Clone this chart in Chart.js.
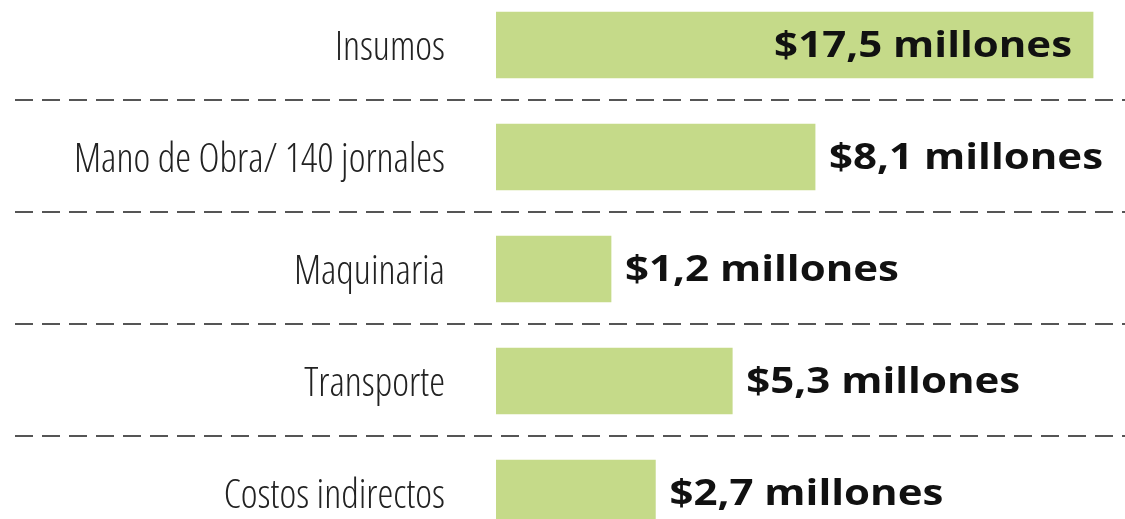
<!DOCTYPE html>
<html>
<head>
<meta charset="utf-8">
<script src="https://cdn.jsdelivr.net/npm/chart.js@4.4.1/dist/chart.umd.min.js"></script>
<style>
  html, body { margin: 0; padding: 0; background: #fff; overflow: hidden; }
  #bar-chart { position: absolute; left: 0; top: -11px; }
</style>
</head>
<body>
<canvas id="bar-chart" width="1125" height="560"></canvas>
<script>
const categories = ['Insumos', 'Mano de Obra/ 140 jornales', 'Maquinaria', 'Transporte', 'Costos indirectos'];
const values = [17.5, 8.1, 1.2, 5.3, 2.7]; // millones de pesos
const valueLabels = ['$17,5 millones', '$8,1 millones', '$1,2 millones', '$5,3 millones', '$2,7 millones'];

const axisMin = -2.69; // bars do not start at zero in the original
const axisMax = 18.58;

// dashed separators across the full width, between rows
const separators = {
    id: 'separators',
    beforeDatasetsDraw(chart) {
        const { ctx, scales: { y } } = chart;
        ctx.save();
        ctx.strokeStyle = '#555';
        ctx.lineWidth = 2;
        ctx.setLineDash([18, 9]);
        for (let i = 0; i < categories.length - 1; i++) {
            const yy = Math.round((y.getPixelForValue(i) + y.getPixelForValue(i + 1)) / 2) - 1;
            ctx.beginPath();
            ctx.moveTo(15, yy);
            ctx.lineTo(chart.width, yy);
            ctx.stroke();
        }
        ctx.restore();
    }
};

// value labels: inside the first bar, after the others (text is a bit wide in the original)
const valueText = {
    id: 'valueText',
    afterDatasetsDraw(chart) {
        const { ctx } = chart;
        const bars = chart.getDatasetMeta(0).data;
        bars.forEach((bar, i) => {
            ctx.save();
            ctx.font = 'bold 35px "Open Sans"';
            ctx.fillStyle = '#111';
            ctx.textBaseline = 'middle';
            if (i === 0) {
                ctx.textAlign = 'right';
                ctx.translate(bar.x - 21, bar.y + 2);
            } else {
                ctx.textAlign = 'left';
                ctx.translate(bar.x + 14, bar.y + 2);
            }
            ctx.scale(1.2, 1);
            ctx.fillText(valueLabels[i], 0, 0);
            ctx.restore();
        });
    }
};

new Chart(document.getElementById('bar-chart'), {
    type: 'bar',
    data: {
        labels: categories,
        datasets: [{
            data: values,
            base: axisMin,
            backgroundColor: '#c5da89',
            borderWidth: 0,
            barThickness: 66,
        }],
    },
    options: {
        indexAxis: 'y',
        responsive: false,
        animation: false,
        layout: { padding: 0 },
        plugins: {
            legend: { display: false },
            tooltip: { enabled: false },
        },
        scales: {
            x: {
                display: false,
                min: axisMin,
                max: axisMax,
            },
            y: {
                grid: { display: false, drawTicks: false },
                border: { display: false },
                afterFit(scale) {
                    scale.width = 496;
                    scale.paddingTop = 0;
                    scale.paddingBottom = 0;
                },
                ticks: {
                    padding: 51,
                    labelOffset: 4,
                    color: '#222',
                    font: { family: '"Open Sans"', weight: 'condensed 300', size: 40 },
                },
            },
        },
    },
    plugins: [separators, valueText],
});
</script>
</body>
</html>
